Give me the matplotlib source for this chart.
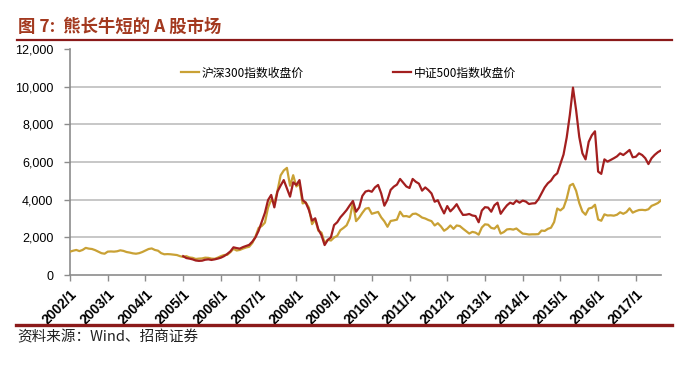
import numpy as np
import pandas as pd
import matplotlib
matplotlib.use("Agg")
import matplotlib.pyplot as plt
from matplotlib.lines import Line2D

plt.rcParams['font.family'] = ['Noto Sans CJK SC', 'DejaVu Sans']

# monthly closes, 2002/1 .. 2017/9
months = pd.period_range('2002-01', periods=189, freq='M')

hs300 = [
    1240, 1290, 1330, 1270, 1330, 1440, 1400, 1380, 1320, 1240, 1160, 1130,  # 2002
    1240, 1250, 1240, 1260, 1310, 1280, 1220, 1190, 1150, 1130, 1160, 1220,  # 2003
    1300, 1380, 1410, 1330, 1290, 1160, 1100, 1110, 1100, 1080, 1060, 1000,  # 2004
    960, 1000, 930, 910, 850, 870, 880, 920, 910, 870, 860, 920,             # 2005
    1000, 1060, 1070, 1210, 1390, 1300, 1330, 1400, 1460, 1500, 1700, 2040,  # 2006
    2500, 2600, 2780, 3580, 4000, 3800, 4470, 5290, 5550, 5688, 4740, 5300,  # 2007
    4700, 4850, 3800, 3850, 3570, 2700, 2950, 2350, 2250, 1700, 1870, 1830,  # 2008
    1990, 2080, 2380, 2500, 2640, 3010, 3850, 2860, 3050, 3300, 3520, 3560,  # 2009
    3250, 3300, 3350, 3060, 2850, 2560, 2870, 2900, 2940, 3360, 3120, 3130,  # 2010
    3080, 3240, 3260, 3170, 3050, 3000, 2920, 2860, 2630, 2750, 2580, 2350,  # 2011
    2460, 2630, 2450, 2630, 2600, 2460, 2330, 2200, 2290, 2250, 2140, 2520,  # 2012
    2690, 2670, 2500, 2460, 2630, 2200, 2280, 2420, 2440, 2410, 2470, 2330,  # 2013
    2200, 2180, 2150, 2160, 2160, 2170, 2360, 2340, 2450, 2510, 2810, 3530,  # 2014
    3430, 3570, 4050, 4750, 4840, 4470, 3820, 3370, 3200, 3530, 3570, 3730,  # 2015
    2950, 2880, 3220, 3160, 3170, 3150, 3200, 3330, 3250, 3340, 3540, 3310,  # 2016
    3390, 3450, 3460, 3440, 3490, 3670, 3740, 3820, 3960,                    # 2017
]

zz500 = [np.nan] * 36 + [
    1000, 900, 870, 830, 770, 750, 760, 810, 830, 800, 830, 870,             # 2005
    920, 1000, 1115, 1250, 1470, 1430, 1400, 1480, 1540, 1600, 1770, 2000,   # 2006
    2350, 2830, 3300, 3980, 4250, 3590, 4430, 4750, 5040, 4600, 4160, 4920,  # 2007
    4780, 5040, 3980, 3840, 3450, 2890, 3010, 2420, 2110, 1590, 1860, 2000,  # 2008
    2650, 2800, 3060, 3250, 3450, 3700, 3930, 3360, 3590, 4200, 4430, 4480,  # 2009
    4420, 4650, 4780, 4330, 3680, 4000, 4520, 4690, 4800, 5100, 4900, 4700,  # 2010
    4620, 5100, 4950, 4850, 4480, 4650, 4510, 4330, 3890, 3970, 3600, 3270,  # 2011
    3660, 3380, 3550, 3760, 3450, 3190, 3200, 3240, 3160, 3130, 2800, 3420,  # 2012
    3600, 3580, 3360, 3700, 3840, 3250, 3490, 3700, 3840, 3770, 3950, 3840,  # 2013
    3950, 3900, 3770, 3800, 3810, 4020, 4340, 4650, 4870, 5010, 5260, 5400,  # 2014
    5900, 6400, 7300, 8500, 9950, 8750, 7330, 6460, 6140, 7070, 7420, 7630,  # 2015
    5490, 5370, 6140, 6020, 6110, 6200, 6300, 6460, 6370, 6500, 6640, 6250,  # 2016
    6280, 6460, 6370, 6200, 5890, 6200, 6380, 6520, 6620,                    # 2017
]

labels = ['沪深300指数收盘价', '中证500指数收盘价']
colors = ['#C9A135', '#A31F1F']
yticks = [0, 2000, 4000, 6000, 8000, 10000, 12000]

W, H = 687, 365
fig = plt.figure(figsize=(W / 100, H / 100), dpi=100)
ax = fig.add_axes([70 / W, 1 - 275 / H, (661 - 70) / W, (275 - 49) / H])

x = np.arange(len(months))
ax.plot(x, hs300, color=colors[0], lw=1.6, label=labels[0], zorder=3)
ax.plot(x, zz500, color=colors[1], lw=1.6, label=labels[1], zorder=4)

ax.set_xlim(0, len(months) - 1)
ax.set_ylim(0, 12000)

ax.set_yticks(yticks)
ax.set_yticklabels([f'{v:,}' for v in yticks], family='Liberation Sans', fontsize=9)
for v in yticks[1:-1]:
    ax.axhline(v, color='#BDBDBD', lw=1.2, zorder=1)

year_idx = [i for i, p in enumerate(months) if p.month == 1]
ax.set_xticks(year_idx)
ax.set_xticklabels([f'{months[i].year}/1' for i in year_idx], rotation=45,
                   ha='right', va='top', rotation_mode='anchor',
                   family='Liberation Sans', fontsize=10, fontweight='bold')

for s in ['top', 'right']:
    ax.spines[s].set_visible(False)
for s in ['left', 'bottom']:
    ax.spines[s].set_color('#8C8C8C')
    ax.spines[s].set_linewidth(1.2)
ax.tick_params(axis='both', colors='#8C8C8C', length=4, width=1, labelcolor='black')
ax.tick_params(axis='x', pad=5)
ax.tick_params(axis='y', pad=8)

fig.legend(loc='center left', bbox_to_anchor=(181 / W, 1 - 73 / H), ncol=2,
           frameon=False, fontsize=8.5, handlelength=1.5, handletextpad=0.25,
           columnspacing=7.6, borderpad=0, borderaxespad=0)

# title and rules
fig.text(18 / W, 1 - 27 / H, '图 7:  熊长牛短的 A 股市场', fontsize=12.5,
         fontweight='bold', color='#A3391F', va='center', ha='left')
fig.add_artist(Line2D([17 / W, 672 / W], [1 - 40 / H] * 2, color='#8B1A1A', lw=1.6))
fig.add_artist(Line2D([16 / W, 672 / W], [1 - 325 / H] * 2, color='#8B1A1A', lw=2.4))
fig.text(17 / W, 1 - 337 / H, '资料来源：Wind、招商证券', fontsize=10.5,
         color='#222222', va='center', ha='left')

fig.savefig('out.png', dpi=100)
